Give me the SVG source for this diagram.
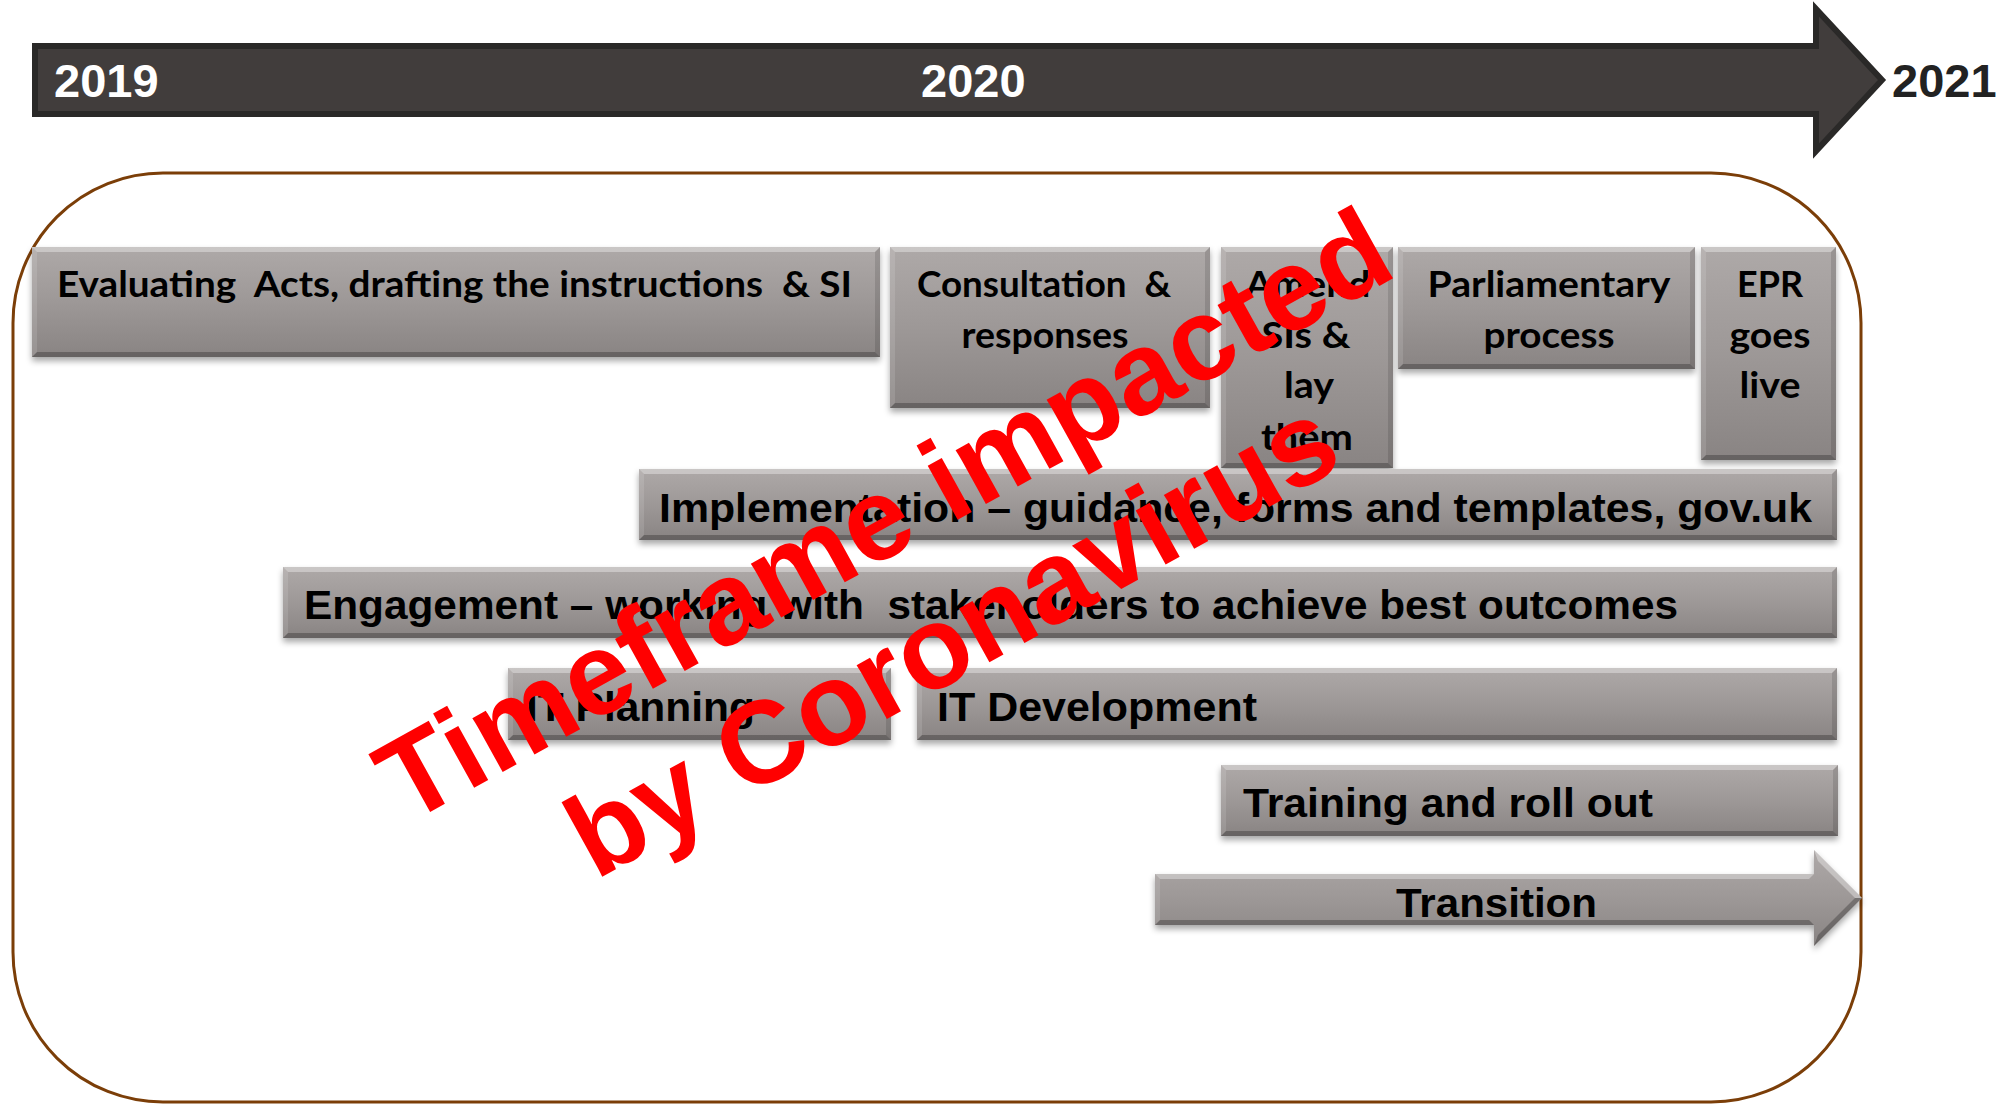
<svg xmlns="http://www.w3.org/2000/svg" width="2007" height="1104" viewBox="0 0 2007 1104">
<defs>
<linearGradient id="gbox" x1="0" y1="0" x2="0" y2="1">
<stop offset="0" stop-color="#aea9a8"/>
<stop offset="0.5" stop-color="#9d9897"/>
<stop offset="1" stop-color="#898483"/>
</linearGradient>
<filter id="sh" x="-5%" y="-20%" width="110%" height="150%">
<feDropShadow dx="0" dy="4" stdDeviation="3" flood-color="#000" flood-opacity="0.35"/>
</filter>
<style>
.box{fill:url(#gbox);filter:url(#sh)}
.hl{fill:#fff;fill-opacity:.35}
.dk{fill:#000;fill-opacity:.25}
.sl{fill:#fff;fill-opacity:.12}
.sr{fill:#000;fill-opacity:.12}
.t{font-family:Lato,"Liberation Sans",sans-serif;font-weight:bold;font-size:36px;fill:#000}
.a{font-family:"Liberation Sans",Arial,sans-serif;font-weight:bold;font-size:40px;fill:#000}
.yr{font-family:"Liberation Sans",Arial,sans-serif;font-weight:bold;font-size:47px}
.wm{font-family:"Liberation Sans",Arial,sans-serif;font-weight:bold;font-size:117px;fill:#ff0000}
</style>
</defs>
<rect width="2007" height="1104" fill="#fff"/>

<g id="timeline">
<path d="M35,46 H1816 V9 L1882,80 L1816,151 V114 H35 Z" fill="#413d3c" stroke="#2a2928" stroke-width="6" stroke-linejoin="miter"/>
<text class="yr" x="54" y="97" fill="#fff">2019</text>
<text class="yr" x="921" y="97" fill="#fff">2020</text>
<text class="yr" x="1892" y="97" fill="#222">2021</text>
</g>

<g id="frame">
<rect x="13" y="173" width="1848" height="929" rx="150" ry="150" fill="none" stroke="#7b3e08" stroke-width="3"/>
</g>

<g id="evaluating">
<rect class="box" x="32" y="247" width="848" height="110"/>
<path class="hl" d="M32,247H880L875,252H37Z"/>
<path class="dk" d="M32,357H880L875,352H37Z"/>
<path class="sl" d="M32,247L37,252V352L32,357Z"/>
<path class="sr" d="M880,247L875,252V352L880,357Z"/>
<text class="t" x="57" y="297" textLength="795" lengthAdjust="spacingAndGlyphs" xml:space="preserve">Evaluating  Acts, drafting the instructions  &amp; SI</text>
</g>

<g id="consultation">
<rect class="box" x="890" y="247" width="320" height="161"/>
<path class="hl" d="M890,247H1210L1205,252H895Z"/>
<path class="dk" d="M890,408H1210L1205,403H895Z"/>
<path class="sl" d="M890,247L895,252V403L890,408Z"/>
<path class="sr" d="M1210,247L1205,252V403L1210,408Z"/>
<text class="t" x="1044" y="297" text-anchor="middle" textLength="254" lengthAdjust="spacingAndGlyphs" xml:space="preserve">Consultation  &amp;</text>
<text class="t" x="1045" y="348" text-anchor="middle" textLength="167" lengthAdjust="spacingAndGlyphs">responses</text>
</g>

<g id="amend">
<rect class="box" x="1221" y="247" width="172" height="221"/>
<path class="hl" d="M1221,247H1393L1388,252H1226Z"/>
<path class="dk" d="M1221,468H1393L1388,463H1226Z"/>
<path class="sl" d="M1221,247L1226,252V463L1221,468Z"/>
<path class="sr" d="M1393,247L1388,252V463L1393,468Z"/>
<text class="t" x="1308" y="297" text-anchor="middle" textLength="125" lengthAdjust="spacingAndGlyphs">Amend</text>
<text class="t" x="1306" y="348" text-anchor="middle" textLength="89" lengthAdjust="spacingAndGlyphs">SIs &amp;</text>
<text class="t" x="1309" y="398" text-anchor="middle" textLength="50" lengthAdjust="spacingAndGlyphs">lay</text>
<text class="t" x="1307" y="450" text-anchor="middle" textLength="92" lengthAdjust="spacingAndGlyphs">them</text>
</g>

<g id="parliamentary">
<rect class="box" x="1398" y="247" width="297" height="122"/>
<path class="hl" d="M1398,247H1695L1690,252H1403Z"/>
<path class="dk" d="M1398,369H1695L1690,364H1403Z"/>
<path class="sl" d="M1398,247L1403,252V364L1398,369Z"/>
<path class="sr" d="M1695,247L1690,252V364L1695,369Z"/>
<text class="t" x="1549" y="297" text-anchor="middle" textLength="243" lengthAdjust="spacingAndGlyphs">Parliamentary</text>
<text class="t" x="1549" y="348" text-anchor="middle" textLength="131" lengthAdjust="spacingAndGlyphs">process</text>
</g>

<g id="epr">
<rect class="box" x="1701" y="247" width="135" height="213"/>
<path class="hl" d="M1701,247H1836L1831,252H1706Z"/>
<path class="dk" d="M1701,460H1836L1831,455H1706Z"/>
<path class="sl" d="M1701,247L1706,252V455L1701,460Z"/>
<path class="sr" d="M1836,247L1831,252V455L1836,460Z"/>
<text class="t" x="1770" y="297" text-anchor="middle" textLength="66" lengthAdjust="spacingAndGlyphs">EPR</text>
<text class="t" x="1770" y="348" text-anchor="middle" textLength="81" lengthAdjust="spacingAndGlyphs">goes</text>
<text class="t" x="1770" y="398" text-anchor="middle" textLength="61" lengthAdjust="spacingAndGlyphs">live</text>
</g>

<g id="implementation">
<rect class="box" x="639" y="469" width="1198" height="71"/>
<path class="hl" d="M639,469H1837L1832,474H644Z"/>
<path class="dk" d="M639,540H1837L1832,535H644Z"/>
<path class="sl" d="M639,469L644,474V535L639,540Z"/>
<path class="sr" d="M1837,469L1832,474V535L1837,540Z"/>
<text class="a" x="659" y="522" textLength="1153" lengthAdjust="spacingAndGlyphs">Implementation – guidance, forms and templates, gov.uk</text>
</g>

<g id="engagement">
<rect class="box" x="283" y="567" width="1554" height="71"/>
<path class="hl" d="M283,567H1837L1832,572H288Z"/>
<path class="dk" d="M283,638H1837L1832,633H288Z"/>
<path class="sl" d="M283,567L288,572V633L283,638Z"/>
<path class="sr" d="M1837,567L1832,572V633L1837,638Z"/>
<text class="a" x="304" y="619" textLength="1374" lengthAdjust="spacingAndGlyphs" xml:space="preserve">Engagement – working with  stakeholders to achieve best outcomes</text>
</g>

<g id="it-planning">
<rect class="box" x="508" y="668" width="383" height="72"/>
<path class="hl" d="M508,668H891L886,673H513Z"/>
<path class="dk" d="M508,740H891L886,735H513Z"/>
<path class="sl" d="M508,668L513,673V735L508,740Z"/>
<path class="sr" d="M891,668L886,673V735L891,740Z"/>
<text class="a" x="526" y="721" textLength="229" lengthAdjust="spacingAndGlyphs">IT Planning</text>
</g>

<g id="it-development">
<rect class="box" x="917" y="668" width="920" height="72"/>
<path class="hl" d="M917,668H1837L1832,673H922Z"/>
<path class="dk" d="M917,740H1837L1832,735H922Z"/>
<path class="sl" d="M917,668L922,673V735L917,740Z"/>
<path class="sr" d="M1837,668L1832,673V735L1837,740Z"/>
<text class="a" x="937" y="721" textLength="320" lengthAdjust="spacingAndGlyphs">IT Development</text>
</g>

<g id="training">
<rect class="box" x="1221" y="765" width="617" height="71"/>
<path class="hl" d="M1221,765H1838L1833,770H1226Z"/>
<path class="dk" d="M1221,836H1838L1833,831H1226Z"/>
<path class="sl" d="M1221,765L1226,770V831L1221,836Z"/>
<path class="sr" d="M1838,765L1833,770V831L1838,836Z"/>
<text class="a" x="1243" y="817" textLength="410" lengthAdjust="spacingAndGlyphs">Training and roll out</text>
</g>

<g id="transition">
<path class="box" d="M1155,874H1814V850L1862,898L1814,946V925H1155Z"/>
<path class="hl" d="M1155,874H1814L1809,879H1160Z"/>
<path class="dk" d="M1155,925H1814L1809,920H1160Z"/>
<path class="sl" d="M1155,874L1160,879V920L1155,925Z"/>
<path class="hl" d="M1814,850L1862,898L1855,898L1818,861Z" fill-opacity=".2"/>
<path class="dk" d="M1814,946L1862,898L1855,898L1818,935Z" fill-opacity=".15"/>
<text class="a" x="1396" y="917" textLength="201" lengthAdjust="spacingAndGlyphs">Transition</text>
</g>

<g id="watermark" transform="translate(903,550) rotate(-29)">
<text class="wm" x="0" y="0" text-anchor="middle">Timeframe impacted</text>
<text class="wm" x="0" y="140" text-anchor="middle">by Coronavirus</text>
</g>
</svg>
